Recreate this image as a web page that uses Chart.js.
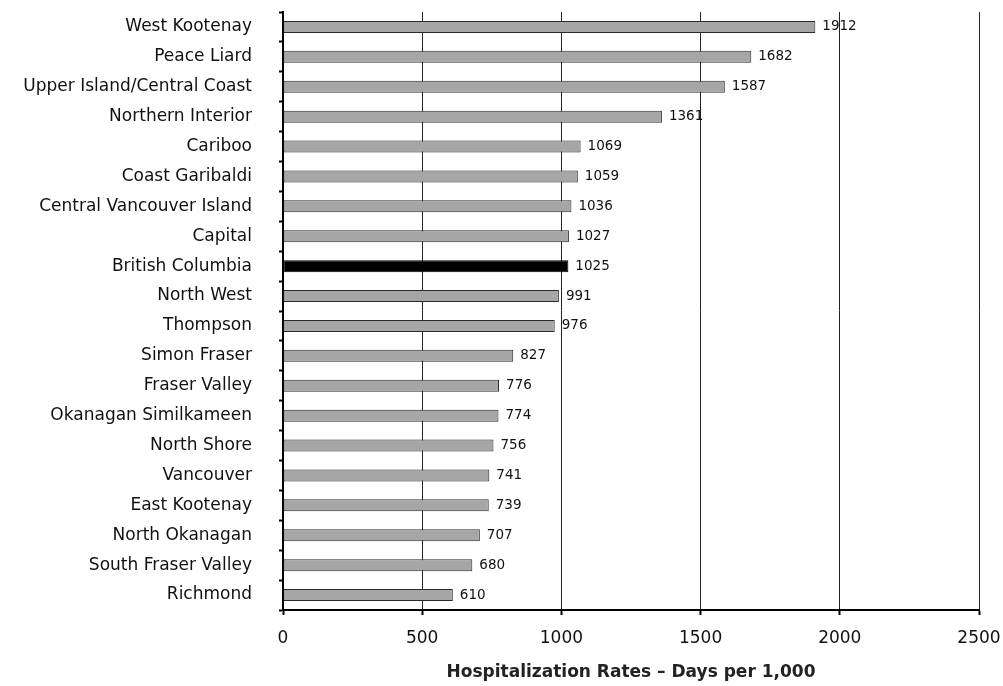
<!DOCTYPE html>
<html>
<head>
<meta charset="utf-8">
<script src="https://cdn.jsdelivr.net/npm/chart.js@4/dist/chart.umd.min.js"></script>
<style>
  html, body { margin: 0; padding: 0; background: #fff; }
  #wrap { width: 1003px; height: 686px; }
</style>
</head>
<body>
<div id="wrap"><canvas id="c" width="1003" height="686"></canvas></div>
<script>
// Hospital days per 1,000 population, by health region
const regions = [
  'West Kootenay', 'Peace Liard', 'Upper Island/Central Coast', 'Northern Interior',
  'Cariboo', 'Coast Garibaldi', 'Central Vancouver Island', 'Capital',
  'British Columbia', 'North West', 'Thompson', 'Simon Fraser', 'Fraser Valley',
  'Okanagan Similkameen', 'North Shore', 'Vancouver', 'East Kootenay',
  'North Okanagan', 'South Fraser Valley', 'Richmond'
];
const daysPer1000 = [
  1912, 1682, 1587, 1361, 1069, 1059, 1036, 1027, 1025, 991,
  976, 827, 776, 774, 756, 741, 739, 707, 680, 610
];
const xTicks = [0, 500, 1000, 1500, 2000, 2500];
const provinceLabel = 'British Columbia';
const axisTitle = 'Hospitalization Rates \u2013 Days per 1,000';

const FONT = "'DejaVu Sans', 'Liberation Sans', Arial, sans-serif";

// writes each value just past the end of its bar
const valueLabels = {
  id: 'valueLabels',
  afterDatasetsDraw(chart) {
    const ctx = chart.ctx;
    const meta = chart.getDatasetMeta(0);
    ctx.save();
    ctx.font = '13.5px ' + FONT;
    ctx.fillStyle = '#111';
    ctx.textAlign = 'left';
    ctx.textBaseline = 'middle';
    meta.data.forEach((bar, i) => {
      ctx.fillText(String(daysPer1000[i]), bar.x + 7, bar.y);
    });
    ctx.restore();
  }
};

new Chart(document.getElementById('c'), {
  type: 'bar',
  data: {
    labels: regions,
    datasets: [{
      data: daysPer1000,
      backgroundColor: regions.map(r => r === provinceLabel ? '#000' : '#a6a6a6'),
      borderColor: regions.map(r => r === provinceLabel ? '#000' : '#2a2a2a'),
      borderWidth: 1,
      borderSkipped: false,
      barPercentage: 0.4,
      categoryPercentage: 1
    }]
  },
  options: {
    indexAxis: 'y',
    responsive: false,
    animation: false,
    devicePixelRatio: 1,
    layout: { padding: { top: 12, right: 24, left: 0, bottom: 0 } },
    plugins: { legend: { display: false }, tooltip: { enabled: false } },
    scales: {
      x: {
        type: 'linear',
        min: 0,
        max: 2500,
        afterBuildTicks(scale) { scale.ticks = xTicks.map(v => ({ value: v })); },
        afterFit(scale) {
          scale.height = 76;
          scale.paddingLeft = 0;
          scale.paddingRight = 0;
        },
        grid: {
          color: '#222',
          lineWidth: 1,
          drawTicks: true,
          tickLength: 5,
          tickColor: '#000',
          tickWidth: 2
        },
        border: { display: true, color: '#000', width: 2 },
        ticks: {
          color: '#111',
          font: { family: FONT, size: 17 },
          padding: 13,
          maxRotation: 0,
          callback: v => String(v)
        },
        title: {
          display: true,
          text: axisTitle,
          color: '#222',
          font: { family: FONT, size: 17, weight: 'bold' },
          padding: { top: 0, bottom: 3 }
        }
      },
      y: {
        afterFit(scale) {
          scale.width = 283;
          scale.paddingTop = 0;
          scale.paddingBottom = 0;
        },
        grid: {
          offset: true,
          drawOnChartArea: false,
          drawTicks: true,
          tickLength: 4,
          tickColor: '#000',
          tickWidth: 2
        },
        border: { display: true, color: '#000', width: 2 },
        ticks: {
          color: '#111',
          font: { family: FONT, size: 17 },
          padding: 27,
          autoSkip: false
        }
      }
    }
  },
  plugins: [valueLabels]
});
</script>
</body>
</html>
